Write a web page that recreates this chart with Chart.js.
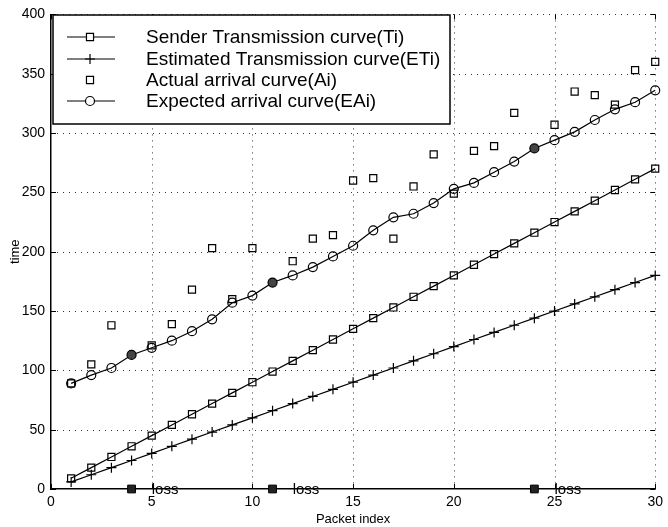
<!DOCTYPE html>
<html>
<head>
<meta charset="utf-8">
<script src="https://cdn.jsdelivr.net/npm/chart.js@4.4.0/dist/chart.umd.min.js"></script>
<style>
  html, body { margin: 0; padding: 0; background: #fff; }
  #wrap { width: 668px; height: 527px; position: relative; }
</style>
</head>
<body>
<div id="wrap"><canvas id="chart"></canvas></div>
<script>
// packet index on the x axis
const packets = [1, 2, 3, 4, 5, 6, 7, 8, 9, 10, 11, 12, 13, 14, 15,
                 16, 17, 18, 19, 20, 21, 22, 23, 24, 25, 26, 27, 28, 29, 30];

// sender transmission curve (Ti)
const senderTi = [9, 18, 27, 36, 45, 54, 63, 72, 81, 90, 99, 108, 117, 126, 135,
                  144, 153, 162, 171, 180, 189, 198, 207, 216, 225, 234, 243, 252, 261, 270];

// estimated transmission curve (ETi)
const estimatedETi = [6, 12, 18, 24, 30, 36, 42, 48, 54, 60, 66, 72, 78, 84, 90,
                      96, 102, 108, 114, 120, 126, 132, 138, 144, 150, 156, 162, 168, 174, 180];

// actual arrival curve (Ai), null where the packet was lost
const actualAi = [89, 105, 138, null, 121, 139, 168, 203, 160, 203, null, 192, 211, 214, 260,
                  262, 211, 255, 282, 249, 285, 289, 317, null, 307, 335, 332, 324, 353, 360];

// expected arrival curve (EAi)
const expectedEAi = [89, 96, 102, 113, 119, 125, 133, 143, 157, 163, 174, 180, 187, 196, 205,
                     218, 229, 232, 241, 253, 258, 267, 276, 287, 294, 301, 311, 320, 326, 336];

// lost packets, marked on the x axis
const lostPackets = [4, 11, 24];
const lossLabel = 'loss';

const legendLabels = [
  'Sender Transmission curve(Ti)',
  'Estimated Transmission curve(ETi)',
  'Actual arrival curve(Ai)',
  'Expected arrival curve(EAi)'
];

const xTicks = [0, 5, 10, 15, 20, 25, 30];
const yTicks = [0, 50, 100, 150, 200, 250, 300, 350, 400];

const FONT = '"Liberation Sans", Arial, Helvetica, sans-serif';

function toPoints(ys) {
  return packets.map((x, i) => ({ x: x, y: ys[i] }));
}

// dotted grid drawn by hand so the dots look like the original
const dottedGrid = {
  id: 'dottedGrid',
  beforeDatasetsDraw(chart) {
    const ctx = chart.ctx;
    const xs = chart.scales.x, ys = chart.scales.y;
    const a = chart.chartArea;
    ctx.save();
    ctx.strokeStyle = '#333';
    ctx.lineWidth = 1;
    ctx.setLineDash([1, 5]);
    ctx.beginPath();
    xTicks.slice(1).forEach(v => {
      const px = Math.round(xs.getPixelForValue(v)) + 0.5;
      ctx.moveTo(px, a.top); ctx.lineTo(px, a.bottom);
    });
    yTicks.slice(1).forEach(v => {
      const py = Math.round(ys.getPixelForValue(v)) + 0.5;
      ctx.moveTo(a.left, py); ctx.lineTo(a.right, py);
    });
    ctx.stroke();
    ctx.restore();
  }
};

const lossMarks = {
  id: 'lossMarks',
  afterDatasetsDraw(chart) {
    const ctx = chart.ctx;
    const xs = chart.scales.x, ys = chart.scales.y;
    ctx.save();
    ctx.fillStyle = '#000';
    ctx.font = '15px ' + FONT;
    ctx.textBaseline = 'middle';
    ctx.textAlign = 'left';
    lostPackets.forEach(p => {
      ctx.fillText(lossLabel, xs.getPixelForValue(p + 1), ys.getPixelForValue(0) + 1);
    });
    ctx.restore();
  }
};

const innerTicks = {
  id: 'innerTicks',
  afterDraw(chart) {
    const ctx = chart.ctx;
    const xs = chart.scales.x, ys = chart.scales.y;
    const a = chart.chartArea;
    ctx.save();
    ctx.strokeStyle = '#000';
    ctx.lineWidth = 1;
    ctx.beginPath();
    xTicks.forEach(v => {
      const px = Math.round(xs.getPixelForValue(v)) + 0.5;
      ctx.moveTo(px, a.bottom); ctx.lineTo(px, a.bottom - 5);
      ctx.moveTo(px, a.top); ctx.lineTo(px, a.top + 5);
    });
    yTicks.forEach(v => {
      const py = Math.round(ys.getPixelForValue(v)) + 0.5;
      ctx.moveTo(a.left, py); ctx.lineTo(a.left + 5, py);
      ctx.moveTo(a.right, py); ctx.lineTo(a.right - 5, py);
    });
    ctx.stroke();
    ctx.restore();
  }
};

const boxLegend = {
  id: 'boxLegend',
  afterDraw(chart) {
    const ctx = chart.ctx;
    const left = 53, top = 15, w = 397, h = 109;
    ctx.save();
    ctx.fillStyle = '#fff';
    ctx.fillRect(left, top, w, h);
    ctx.strokeStyle = '#000';
    ctx.lineWidth = 1.5;
    ctx.strokeRect(left, top, w, h);
    ctx.font = '19px ' + FONT;
    ctx.textBaseline = 'middle';
    const rowY = [37, 59, 80, 101];
    chart.data.datasets.slice(0, 4).forEach((ds, i) => {
      const y = rowY[i];
      ctx.lineWidth = 1.2;
      ctx.strokeStyle = '#000';
      if (ds.showLine !== false) {
        ctx.beginPath();
        ctx.moveTo(67, y); ctx.lineTo(115, y);
        ctx.stroke();
      }
      ctx.fillStyle = '#fff';
      Chart.helpers.drawPoint(ctx, {
        pointStyle: ds.pointStyle, radius: ds.pointRadius, borderWidth: 1.2
      }, 90, y);
      ctx.fillStyle = '#000';
      ctx.fillText(legendLabels[i], 146, y + 1);
    });
    ctx.restore();
  }
};

new Chart(document.getElementById('chart'), {
  type: 'line',
  data: {
    datasets: [
      {
        label: legendLabels[0],
        data: toPoints(senderTi),
        borderColor: '#000', borderWidth: 1.2,
        pointStyle: 'rect', pointRadius: 5,
        pointBorderColor: '#000', pointBackgroundColor: 'rgba(0,0,0,0)',
        pointBorderWidth: 1.2, tension: 0, clip: false
      },
      {
        label: legendLabels[1],
        data: toPoints(estimatedETi),
        borderColor: '#000', borderWidth: 1.2,
        pointStyle: 'cross', pointRadius: 5,
        pointBorderColor: '#000', pointBorderWidth: 1.2, tension: 0, clip: false
      },
      {
        label: legendLabels[2],
        data: toPoints(actualAi),
        showLine: false,
        pointStyle: 'rect', pointRadius: 5,
        pointBorderColor: '#000', pointBackgroundColor: 'rgba(0,0,0,0)',
        pointBorderWidth: 1.2, clip: false
      },
      {
        label: legendLabels[3],
        data: toPoints(expectedEAi),
        borderColor: '#000', borderWidth: 1.2,
        pointStyle: 'circle', pointRadius: 4.5,
        pointBorderColor: '#000',
        pointBackgroundColor: packets.map(p => lostPackets.includes(p) ? '#444' : 'rgba(0,0,0,0)'),
        pointBorderWidth: 1.2, tension: 0, clip: false
      },
      {
        label: 'lost',
        data: lostPackets.map(p => ({ x: p, y: 0 })),
        showLine: false,
        pointStyle: 'rect', pointRadius: 5.5,
        pointBorderColor: '#000', pointBackgroundColor: '#222',
        pointBorderWidth: 1, clip: false
      }
    ]
  },
  options: {
    responsive: true,
    maintainAspectRatio: false,
    animation: false,
    layout: { padding: { top: 9, right: 7, left: 0, bottom: 0 } },
    plugins: {
      legend: { display: false },
      tooltip: { enabled: false }
    },
    scales: {
      x: {
        type: 'linear', min: 0, max: 30,
        afterFit: s => { s.height = 38; },
        afterBuildTicks: s => { s.ticks = xTicks.map(v => ({ value: v })); },
        ticks: { color: '#000', padding: 5, font: { family: FONT, size: 14 }, maxRotation: 0 },
        grid: { display: false, drawTicks: false },
        border: { display: true, color: '#000', width: 1.5 },
        title: {
          display: true, text: 'Packet index', color: '#000',
          font: { family: FONT, size: 13 }, padding: { top: 0, bottom: 0 }
        }
      },
      y: {
        type: 'linear', min: 0, max: 400,
        afterFit: s => { s.width = 51; },
        afterBuildTicks: s => { s.ticks = yTicks.map(v => ({ value: v })); },
        ticks: { color: '#000', padding: 6, font: { family: FONT, size: 14 } },
        grid: { display: false, drawTicks: false },
        border: { display: true, color: '#000', width: 1.5 },
        title: {
          display: true, text: 'time', color: '#000',
          font: { family: FONT, size: 13 }, padding: { top: 8, bottom: 0 }
        }
      }
    }
  },
  plugins: [dottedGrid, lossMarks, innerTicks, boxLegend]
});
</script>
</body>
</html>
